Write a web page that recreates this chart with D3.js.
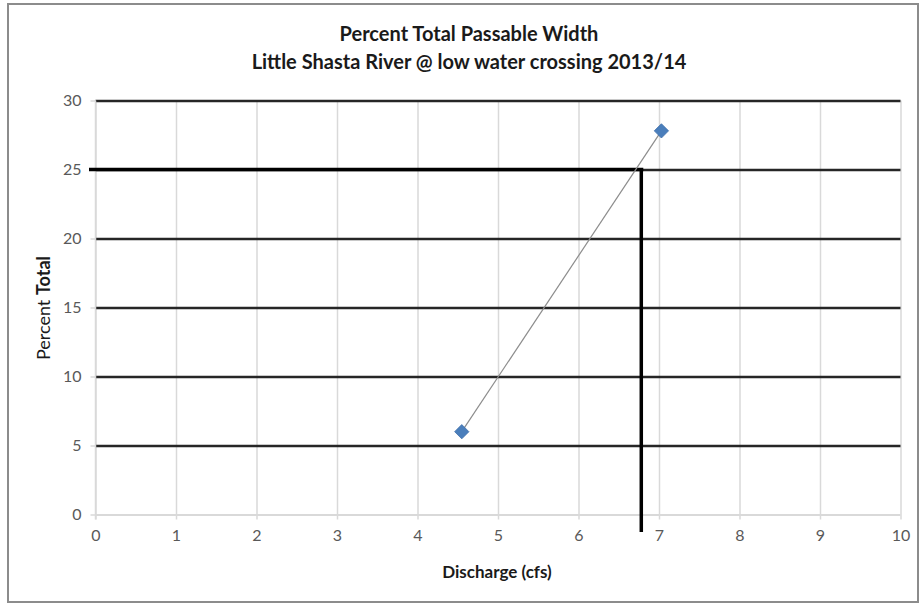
<!DOCTYPE html>
<html><head><meta charset="utf-8">
<script src="https://cdn.jsdelivr.net/npm/d3@7"></script>
<style>body{margin:0;background:#fff}svg{display:block}</style>
</head><body>
<script>
const titleLines = ["Percent Total Passable Width", "Little Shasta River @ low water crossing 2013/14"];
const discharge = [4.55, 7.03];
const percentTotal = [6.0, 27.8];
const xTicks = [0,1,2,3,4,5,6,7,8,9,10];
const yTicks = [0,5,10,15,20,25,30];
const refX = 6.78, refY = 25;

const W = 919, H = 605;
const svg = d3.select("body").append("svg").attr("width", W).attr("height", H);
svg.append("rect").attr("x", 8).attr("y", 4).attr("width", 910).attr("height", 598)
  .attr("fill", "#fff").attr("stroke", "#8c8c8c").attr("stroke-width", 2);

const x = d3.scaleLinear().domain([0,10]).range([95.5, 900.5]);
const y = d3.scaleLinear().domain([0,30]).range([514.5, 100.5]);
const font = "Lato, 'Open Sans', sans-serif";

// vertical light gridlines
const xAxis = d3.axisBottom(x).tickValues(xTicks).tickSize(-(y(0)-y(30))).tickSizeOuter(0).tickPadding(17);
const gx = svg.append("g").attr("transform", `translate(0,${y(0)})`).call(xAxis);
gx.select(".domain").remove();
gx.selectAll(".tick line").attr("stroke", "#d9d9d9").attr("stroke-width", 1.5).attr("y1", 5);
gx.selectAll(".tick text").attr("fill", "#595959").attr("font-family", font).attr("font-size", 16).attr("dy", "0.6em");

// horizontal gridlines
const yAxis = d3.axisLeft(y).tickValues(yTicks).tickSize(-(x(10)-x(0))).tickSizeOuter(0).tickPadding(14);
const gy = svg.append("g").attr("transform", `translate(${x(0)},0)`).call(yAxis);
gy.select(".domain").remove();
gy.selectAll(".tick line").attr("stroke", d => d === 0 ? "#d9d9d9" : "#262626")
  .attr("stroke-width", d => d === 0 ? 2 : 2.6);
gy.selectAll(".tick").append("line").attr("x1", -5).attr("x2", 0).attr("stroke", "#d9d9d9").attr("stroke-width", 1.5);
gy.selectAll(".tick text").attr("fill", "#595959").attr("font-family", font).attr("font-size", 16);
// y axis line
svg.append("line").attr("x1", x(0)).attr("x2", x(0)).attr("y1", y(30)).attr("y2", y(0)+5)
  .attr("stroke", "#d9d9d9").attr("stroke-width", 1.5);

// reference lines
svg.append("line").attr("x1", 89).attr("x2", x(refX)+2).attr("y1", y(refY)).attr("y2", y(refY))
  .attr("stroke", "#000").attr("stroke-width", 3.5);
svg.append("line").attr("x1", x(refX)).attr("x2", x(refX)).attr("y1", y(refY)).attr("y2", 532)
  .attr("stroke", "#000").attr("stroke-width", 3.5);

// series line
const pts = discharge.map((d,i) => [d, percentTotal[i]]);
svg.append("path").datum(pts).attr("fill", "none").attr("stroke", "#8c8c8c").attr("stroke-width", 1.2)
  .attr("d", d3.line().x(d => x(d[0])).y(d => y(d[1])));
svg.selectAll(".pt").data(pts).join("path")
  .attr("transform", d => `translate(${x(d[0])},${y(d[1])})`)
  .attr("d", d3.symbol(d3.symbolDiamond2, 130)())
  .attr("fill", "#4a7ebb").attr("stroke", "#3f6fab").attr("stroke-width", 0.8);

// titles
svg.selectAll(".title").data(titleLines).join("text")
  .attr("x", 469).attr("y", (d,i) => 41 + i*28).attr("text-anchor", "middle")
  .attr("font-family", font).attr("font-weight", "bold").attr("font-size", 20).attr("fill", "#1a1a1a")
  .text(d => d);

svg.append("text").attr("x", 497).attr("y", 578).attr("text-anchor", "middle")
  .attr("font-family", font).attr("font-weight", "bold").attr("font-size", 17).attr("fill", "#1a1a1a")
  .text("Discharge (cfs)");

const yl = svg.append("text").attr("transform", "translate(50,308) rotate(-90)").attr("text-anchor", "middle")
  .attr("font-family", font).attr("font-size", 18).attr("fill", "#1a1a1a");
yl.append("tspan").text("Percent ");
yl.append("tspan").attr("font-weight", "bold").text("Total");
</script>
</body></html>
